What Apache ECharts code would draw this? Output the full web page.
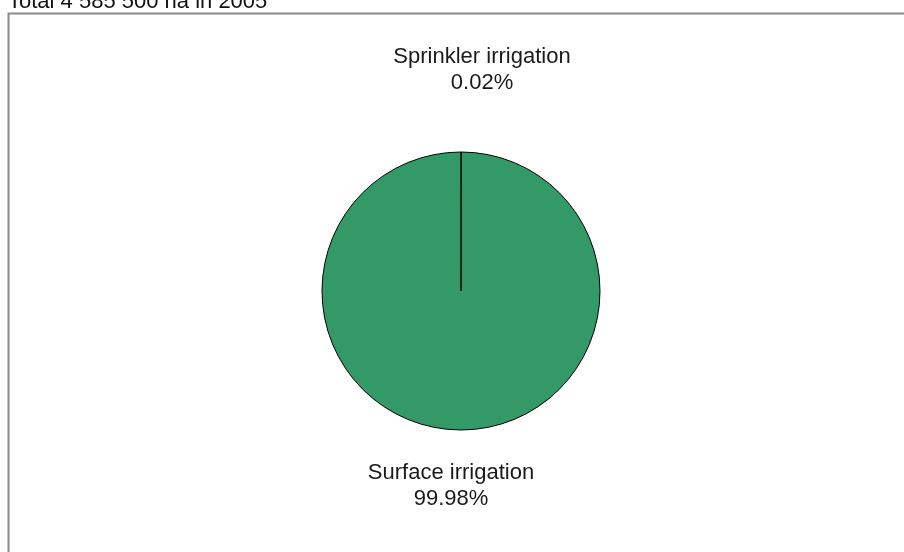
<!DOCTYPE html>
<html>
<head>
<meta charset="utf-8">
<script src="https://cdn.jsdelivr.net/npm/echarts@6/dist/echarts.min.js"></script>
<style>
  html, body { margin: 0; padding: 0; background: #fff; }
  #chart { width: 904px; height: 552px; }
</style>
</head>
<body>
<div id="chart"></div>
<script>
// irrigation techniques, share of area (%)
const categories = ['Sprinkler irrigation', 'Surface irrigation']
const shares = [0.02, 99.98]
const titleText = 'Total 4 585 500 ha in 2005'

// where each label block sits (centre x, centre y)
const labelSpots = [[482, 70], [451, 486]]

const chart = echarts.init(document.getElementById('chart'))

chart.setOption({
  animation: false,
  textStyle: { fontFamily: 'Liberation Sans, Arial, sans-serif' },
  graphic: [
    {
      type: 'rect',
      shape: { x: 8.5, y: 13.5, width: 905, height: 550 },
      style: { fill: 'none', stroke: '#8a8a8a', lineWidth: 2 },
      silent: true
    },
    {
      type: 'text',
      left: 8,
      top: -9,
      style: {
        text: titleText,
        font: '22px "Liberation Sans", Arial, sans-serif',
        fill: '#111'
      }
    }
  ],
  series: [
    {
      type: 'pie',
      center: [461, 291],
      radius: 139,
      startAngle: 90,
      clockwise: true,
      avoidLabelOverlap: false,
      color: ['#339966', '#339966'],
      itemStyle: { borderColor: '#000', borderWidth: 1 },
      label: {
        show: true,
        position: 'outside',
        formatter: '{b}\n{c}%',
        fontSize: 22,
        lineHeight: 26,
        color: '#1a1a1a'
      },
      labelLine: { show: false },
      emphasis: { disabled: true },
      labelLayout: function (params) {
        const p = labelSpots[params.dataIndex]
        return { x: p[0], y: p[1], align: 'center', verticalAlign: 'middle' }
      },
      data: categories.map((name, i) => ({ name: name, value: shares[i] }))
    }
  ]
})
</script>
</body>
</html>
